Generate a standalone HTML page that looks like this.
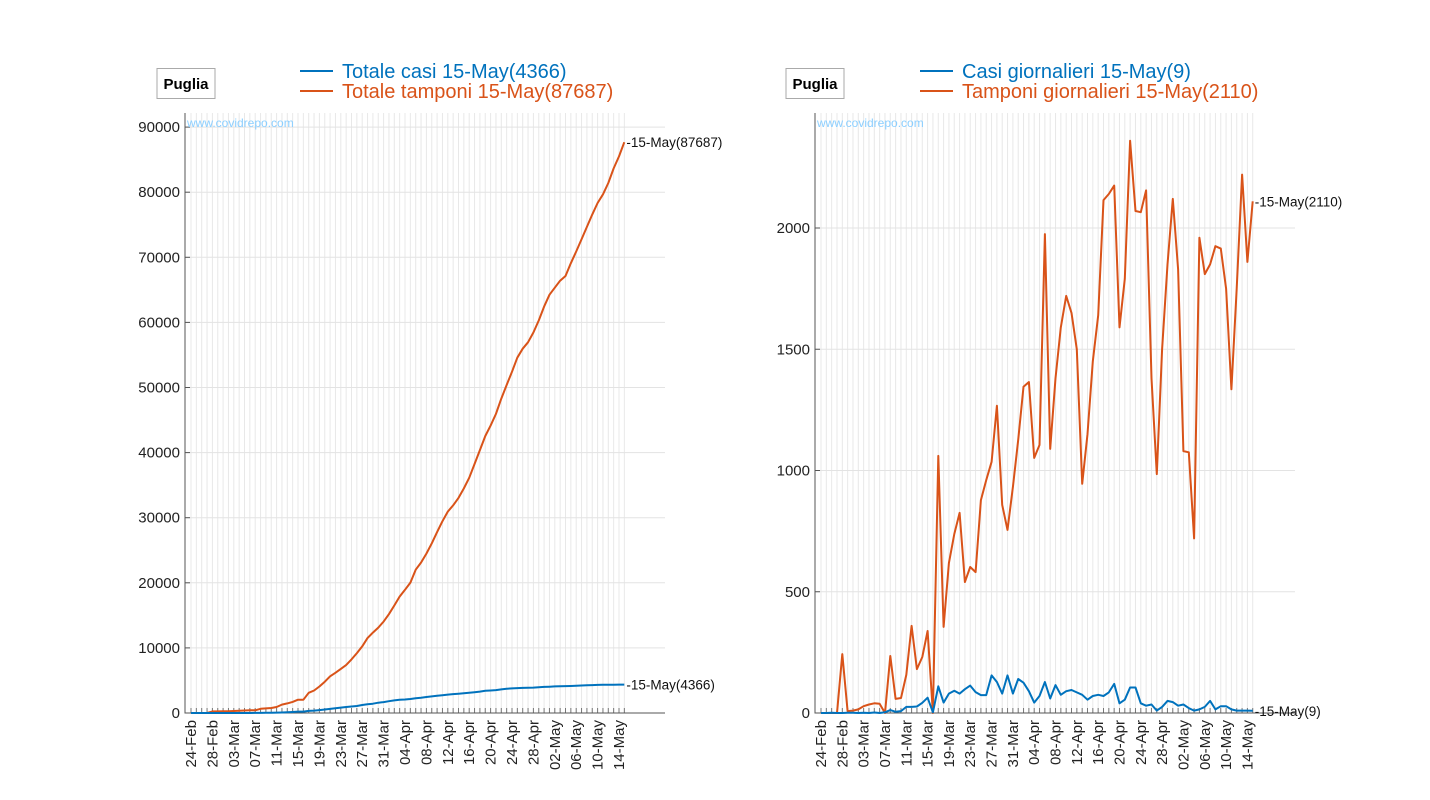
<!DOCTYPE html>
<html><head><meta charset="utf-8">
<style>
body{margin:0;background:#fff;}
svg{display:block;font-family:"Liberation Sans",Arial,sans-serif;}
</style></head>
<body>
<svg id="chart" width="1430" height="800" viewBox="0 0 1430 800" xmlns="http://www.w3.org/2000/svg"></svg>
<script>
const dayLabels = ["24-Feb","28-Feb","03-Mar","07-Mar","11-Mar","15-Mar","19-Mar","23-Mar","27-Mar","31-Mar","04-Apr","08-Apr","12-Apr","16-Apr","20-Apr","24-Apr","28-Apr","02-May","06-May","10-May","14-May"];
const leftYTicks = [0,10000,20000,30000,40000,50000,60000,70000,80000,90000];
const rightYTicks = [0,500,1000,1500,2000];
const totalTamponi = [0,0,0,0,243,251,261,276,304,339,379,417,417,652,710,772,929,1288,1469,1700,2038,2038,3098,3453,4071,4809,5634,6174,6776,7357,8235,9195,10231,11498,12356,13111,14043,15169,16514,17879,18931,20036,22011,23100,24480,26070,27790,29440,30940,31885,33035,34485,36125,38240,40380,42555,44145,45935,48295,50365,52430,54585,55965,56950,58450,60300,62420,64250,65330,66405,67125,69085,70895,72745,74670,76585,78335,79670,81420,83640,85500,87687];
const totalCasi = [0,0,1,1,1,2,3,3,4,4,6,6,9,21,26,34,59,84,111,153,216,219,329,372,452,544,624,722,835,921,995,1069,1224,1352,1432,1587,1667,1807,1932,2022,2070,2145,2280,2345,2465,2545,2640,2740,2830,2910,2970,3045,3125,3200,3290,3415,3460,3520,3630,3740,3785,3820,3860,3875,3905,3960,4010,4045,4085,4110,4125,4145,4175,4230,4250,4280,4310,4328,4340,4350,4357,4366];
const dailyTamponi = [0,0,0,0,243,8,10,15,28,35,40,38,0,235,58,62,157,359,181,231,338,0,1060,355,618,738,825,540,602,581,878,960,1036,1267,858,755,932,1126,1345,1365,1052,1105,1975,1089,1380,1590,1720,1650,1500,945,1150,1450,1640,2115,2140,2175,1590,1790,2360,2070,2065,2155,1380,985,1500,1850,2120,1830,1080,1075,720,1960,1810,1850,1925,1915,1750,1335,1750,2220,1860,2110];
const dailyCasi = [0,0,1,0,0,1,1,0,1,0,2,0,3,12,5,8,25,25,27,42,63,3,110,43,80,92,80,98,113,86,74,74,155,128,80,155,80,140,125,90,43,70,128,60,115,75,90,95,85,75,55,70,75,70,85,120,40,55,105,105,40,30,35,10,25,50,45,30,35,20,10,15,25,50,15,28,28,15,10,10,10,9];

const NS="http://www.w3.org/2000/svg";
const svg=document.getElementById('chart');
function mk(tag,attrs,parent){const e=document.createElementNS(NS,tag);for(const k in attrs)e.setAttribute(k,attrs[k]);(parent||svg).appendChild(e);return e;}

const BLUE="#0072bd", ORANGE="#d95319";
const panels=[
 {x0:185,x1:665,top:113,bottom:713,dx0:191,step:5.35,ymax:10000/65.1,ticks:leftYTicks,s1:totalCasi,s2:totalTamponi,
  leg1:"Totale casi 15-May(4366)",leg2:"Totale tamponi 15-May(87687)",legX:300,boxX:157,lab1:"-15-May(4366)",lab2:"-15-May(87687)",name:"totals"},
 {x0:815,x1:1295,top:113,bottom:713,dx0:821,step:5.33,ymax:500/121.25,ticks:rightYTicks,s1:dailyCasi,s2:dailyTamponi,
  leg1:"Casi giornalieri 15-May(9)",leg2:"Tamponi giornalieri 15-May(2110)",legX:920,boxX:786,lab1:"-15-May(9)",lab2:"-15-May(2110)",name:"daily"}
];
panels.forEach(p=>{
 const g=mk('g',{});
 
 
 const X=d=>p.dx0+d*p.step;
 const Y=v=>p.bottom-v/p.ymax;
 const n=p.s1.length;
 for(let d=0;d<n;d++){
  const l=mk('line',{x1:X(d),x2:X(d),y1:p.top,y2:p.bottom,stroke:"#e8e8e8","stroke-width":1},g);
  
  
  const t=mk('line',{x1:X(d),x2:X(d),y1:p.bottom-5,y2:p.bottom,stroke:"#777","stroke-width":1},g);
  
  
 }
 p.ticks.forEach(v=>{
  const y=Y(v);
  const l=mk('line',{x1:p.x0,x2:p.x1,y1:y,y2:y,stroke:"#e3e3e3","stroke-width":1},g);
  
  
  const tk=mk('line',{x1:p.x0,x2:p.x0+5,y1:y,y2:y,stroke:"#555"},g);
  
  
  const t=mk('text',{x:p.x0-5,y:y+5,"text-anchor":"end","font-size":15,fill:"#222"},g);
  t.textContent=v;
  
  
 });
 const ax=mk('path',{d:`M${p.x0},${p.top}V${p.bottom}H${p.x1}`,fill:"none",stroke:"#555","stroke-width":1},g);
 
 
 dayLabels.forEach((lab,i)=>{
  const x=X(i*4);
  const t=mk('text',{x:0,y:0,transform:`translate(${x+5},${p.bottom+7}) rotate(-90)`,"text-anchor":"end","font-size":15,fill:"#222"},g);
  t.textContent=lab;
  
  
 });
 const w=mk('text',{x:p.x0+2,y:127,"font-size":12,fill:"#8ccfff"},g);
 w.textContent="www.covidrepo.com";
 
 
 [[p.s2,ORANGE,'tamponi-line'],[p.s1,BLUE,'casi-line']].forEach(([s,c,nm])=>{
  const d=s.map((v,i)=>(i?'L':'M')+X(i).toFixed(1)+','+Y(v).toFixed(1)).join('');
  const pa=mk('path',{d:d,fill:"none",stroke:c,"stroke-width":2,"stroke-linejoin":"round"},g);
  
  
 });
 [[p.s1,p.lab1,'casi-end-label'],[p.s2,p.lab2,'tamponi-end-label']].forEach(([s,lab,nm])=>{
  const t=mk('text',{x:X(n-1)+2,y:Y(s[n-1])+5,"font-size":13.5,fill:"#111"},g);
  t.textContent=lab;
  
  
 });
 const l1=mk('line',{x1:p.legX,x2:p.legX+33,y1:71,y2:71,stroke:BLUE,"stroke-width":2},g);
 
 
 const t1=mk('text',{x:p.legX+42,y:78,"font-size":20,fill:BLUE},g);
 t1.textContent=p.leg1;
 
 
 const l2=mk('line',{x1:p.legX,x2:p.legX+33,y1:91,y2:91,stroke:ORANGE,"stroke-width":2},g);
 
 
 const t2=mk('text',{x:p.legX+42,y:98,"font-size":20,fill:ORANGE},g);
 t2.textContent=p.leg2;
 
 
 const b=mk('rect',{x:p.boxX,y:68.5,width:58,height:30,fill:"#fff",stroke:"#aaa"},g);
 
 
 const bt=mk('text',{x:p.boxX+29,y:89,"text-anchor":"middle","font-size":15,"font-weight":"bold",fill:"#000"},g);
 bt.textContent="Puglia";
 
 
});
</script>
</body></html>
